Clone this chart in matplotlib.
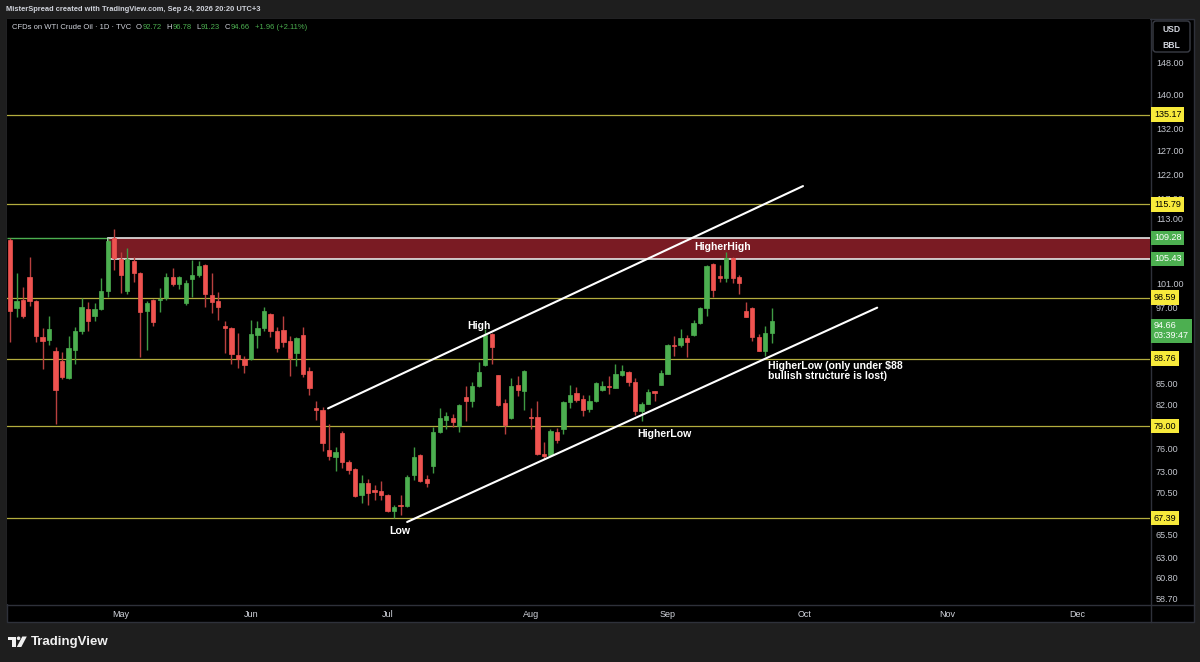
import numpy as np
import matplotlib
matplotlib.use('Agg')
import matplotlib.pyplot as plt
import matplotlib.transforms as mtransforms
from matplotlib import font_manager as fm
from matplotlib.patches import Rectangle, FancyBboxPatch, Polygon, Circle

installed = {f.name for f in fm.fontManager.ttflist}
AXIS_FONT = 'Liberation Sans Narrow' if 'Liberation Sans Narrow' in installed else 'Liberation Sans'
plt.rcParams['font.family'] = ['Liberation Sans', 'DejaVu Sans']

# daily candles (bar index 0 = first visible bar, mid April)
opens = [108.87, 96.90, 98.24, 102.18, 98.07, 92.05, 91.58, 89.87, 88.35, 85.82,
         90.03, 93.00, 96.74, 95.59, 96.74, 99.76, 109.25, 105.38, 99.76, 105.02,
         102.89, 96.40, 98.24, 98.24, 98.58, 102.18, 100.96, 97.74, 101.83, 102.53,
         104.30, 99.09, 98.07, 93.96, 93.48, 89.26, 88.65, 88.65, 92.37, 93.48,
         95.91, 93.00, 93.16, 91.43, 89.57, 92.37, 86.85, 81.52, 81.24, 75.86,
         74.95, 78.10, 74.32, 73.31, 70.12, 71.58, 70.73, 70.60, 70.12, 68.23,
         68.93, 68.82, 72.56, 75.20, 72.07, 73.81, 78.24, 79.86, 80.14, 79.05,
         83.07, 82.50, 84.65, 87.75, 92.53, 86.26, 82.22, 80.14, 84.80, 83.93,
         80.27, 80.27, 75.34, 75.21, 78.24, 78.64, 82.36, 83.64, 82.78, 81.38,
         82.50, 84.07, 84.65, 84.35, 86.26, 86.70, 85.23, 81.10, 82.08, 83.93,
         84.80, 86.40, 90.80, 90.80, 91.90, 92.37, 94.45, 96.90, 104.48, 102.35,
         102.00, 105.56, 102.18, 96.40, 96.90, 92.05, 89.87, 92.72]
highs = [109.25, 102.89, 100.44, 105.74, 98.20, 93.48, 95.59, 90.49, 89.72, 92.21,
         93.80, 98.58, 97.90, 97.74, 102.00, 109.25, 110.94, 106.66, 107.39, 105.74,
         103.00, 98.07, 98.41, 100.27, 102.89, 103.77, 102.35, 101.66, 105.20, 105.02,
         104.48, 102.89, 99.59, 94.77, 93.80, 92.69, 89.10, 94.93, 94.77, 97.07,
         96.07, 93.80, 95.59, 92.21, 92.05, 93.80, 87.45, 82.50, 81.66, 79.32,
         76.25, 78.37, 74.57, 73.44, 72.56, 72.07, 71.34, 71.82, 70.24, 68.93,
         70.12, 72.56, 76.25, 75.30, 72.56, 78.91, 81.52, 80.96, 80.69, 82.08,
         84.65, 85.23, 88.20, 93.32, 92.69, 86.35, 82.78, 85.82, 86.10, 87.00,
         81.52, 82.50, 76.90, 78.64, 78.78, 82.50, 84.80, 84.50, 83.35, 83.35,
         85.23, 85.38, 86.10, 87.90, 87.75, 86.85, 85.82, 82.36, 84.21, 83.93,
         87.00, 90.96, 92.21, 93.32, 92.37, 94.93, 97.07, 104.30, 104.66, 104.30,
         106.66, 105.74, 102.53, 97.90, 97.07, 92.53, 93.96, 96.78]
lows = [91.27, 95.42, 95.26, 97.24, 91.27, 87.15, 90.80, 79.32, 85.67, 85.70,
        87.90, 92.53, 93.00, 94.77, 96.57, 98.74, 103.42, 99.43, 99.26, 101.31,
        88.95, 90.03, 93.96, 96.24, 98.24, 100.62, 100.10, 97.40, 98.74, 102.18,
        97.07, 96.07, 94.93, 89.57, 87.90, 87.30, 86.56, 88.50, 90.34, 93.00,
        92.05, 89.72, 90.49, 86.10, 87.60, 85.96, 83.35, 79.86, 75.73, 74.45,
        73.06, 73.44, 72.68, 69.88, 69.17, 68.93, 69.52, 69.52, 68.10, 67.39,
        67.77, 68.70, 71.94, 71.70, 71.10, 72.80, 78.10, 78.64, 78.91, 78.24,
        79.73, 81.66, 84.50, 87.60, 87.90, 81.80, 77.97, 80.00, 83.20, 81.24,
        78.64, 75.20, 74.70, 75.08, 76.78, 77.97, 81.52, 82.36, 80.41, 80.96,
        82.36, 83.93, 83.50, 84.35, 86.10, 84.65, 80.55, 79.73, 82.00, 82.50,
        84.80, 86.40, 89.10, 90.49, 88.95, 92.21, 94.13, 95.59, 98.74, 101.31,
        101.31, 101.14, 99.26, 95.42, 91.43, 89.87, 89.10, 91.23]
closes = [96.40, 98.07, 95.59, 98.07, 92.21, 91.43, 93.32, 84.07, 85.96, 90.34,
          93.00, 97.07, 94.77, 96.74, 99.76, 108.68, 105.56, 102.53, 105.38, 102.89,
          96.24, 97.74, 94.61, 98.41, 102.18, 100.96, 102.18, 101.14, 102.53, 104.12,
          99.26, 97.90, 97.07, 93.64, 89.41, 88.65, 87.75, 92.53, 93.48, 96.40,
          93.00, 90.34, 91.27, 88.80, 91.90, 86.40, 84.35, 81.24, 76.78, 75.08,
          75.60, 74.20, 73.19, 70.00, 71.58, 70.36, 70.48, 70.12, 68.23, 68.70,
          68.82, 72.31, 74.95, 71.82, 71.58, 78.24, 80.14, 80.41, 79.59, 81.94,
          82.50, 84.65, 86.70, 92.37, 90.49, 81.94, 79.19, 84.65, 84.07, 86.85,
          80.14, 75.34, 75.08, 78.37, 77.17, 82.36, 83.35, 82.64, 81.24, 82.50,
          85.09, 84.65, 84.50, 86.40, 86.85, 85.23, 81.10, 82.08, 83.78, 83.64,
          86.56, 90.80, 90.65, 91.90, 91.27, 94.45, 96.90, 104.12, 99.93, 102.00,
          105.56, 102.00, 101.14, 95.42, 92.05, 89.87, 92.69, 94.66]

month_bars = [17, 37, 58, 80, 101, 122, 144, 164]
month_names = ['May', 'Jun', 'Jul', 'Aug', 'Sep', 'Oct', 'Nov', 'Dec']
price_ticks = [148, 140, 132, 127, 122, 117, 113, 101, 97, 85, 82, 76, 73, 70.5, 68, 65.5, 63, 60.8, 58.7]

yellow_levels = [135.17, 115.79, 98.59, 88.76, 79.00, 67.39]
zone_low, zone_high, zone_start = 105.43, 109.28, 15
upper_channel = ([48.85, 121.8], [81.45, 119.5])
lower_channel = ([61.0, 133.2], [66.96, 96.9])
last_price, countdown = 94.66, '03:39:47'

legend_title = 'CFDs on WTI Crude Oil \u00b7 1D \u00b7 TVC'
legend_ohlc = [('O', '92.72'), ('H', '96.78'), ('L', '91.23'), ('C', '94.66')]
legend_change = '+1.96 (+2.11%)'

notes = [('High', 72.0, 93.96, 'center'),
         ('Low', 59.9, 65.93, 'center'),
         ('HigherLow', 100.5, 77.9, 'center'),
         ('HigherHigh', 109.5, 107.5, 'center'),
         ('HigherLow (only under \\$88\nbullish structure is lost)', 116.4, 86.9, 'left')]

RED, GREEN = '#ef5350', '#4caf50'
RED_WICK, GREEN_WICK = '#b8403f', '#3f9a43'
LEVEL = '#b3ad3e'
YELLOW_TAG = '#f7ea3b'
TXT = '#d1d4dc'
AX_TXT = '#c3c6ce'
FRAME = '#2e313a'

fig = plt.figure(figsize=(12, 6.62), dpi=100)
fig.patch.set_facecolor('#1e1e1e')

# pixel-space background layer
bg = fig.add_axes([0, 0, 1, 1], zorder=0)
bg.set_xlim(0, 1200)
bg.set_ylim(662, 0)
bg.axis('off')
bg.add_patch(Rectangle((6.5, 18.5), 1187, 603.5, facecolor='black', edgecolor=FRAME, lw=1))
bg.plot([1150.5, 1150.5], [18.5, 622], color=FRAME, lw=1)
bg.plot([6.5, 1193.5], [604.5, 604.5], color=FRAME, lw=1)
bg.add_patch(FancyBboxPatch((1153, 21), 37, 31, boxstyle='round,pad=0,rounding_size=3',
                            facecolor='black', edgecolor='#3a3d46', lw=1))
bg.text(1171.5, 29, 'USD', color=TXT, fontsize=6.2, va='center', ha='center', fontweight='bold')
bg.text(1171.5, 45.5, 'BBL', color=TXT, fontsize=6.2, va='center', ha='center', fontweight='bold')

bg.text(6, 9.5, 'MisterSpread created with TradingView.com, Sep 24, 2026 20:20 UTC+3',
        color=TXT, fontsize=5.4, fontweight='bold', va='center', ha='left')

# footer logo
bg.add_patch(Rectangle((8, 636.5), 7.5, 3.5, color='#f0f0f0', lw=0))
bg.add_patch(Rectangle((11.8, 636.5), 3.7, 10.5, color='#f0f0f0', lw=0))
bg.add_patch(Circle((18.6, 638.3), 1.8, color='#f0f0f0', lw=0))
bg.add_patch(Polygon([[16.8, 647], [22.3, 636.5], [26.8, 636.5], [21.3, 647]], color='#f0f0f0', lw=0))
bg.text(31, 642, 'TradingView', color='#f0f0f0', fontsize=9.5, fontweight='bold', va='center', ha='left')

# main chart pane
ax = fig.add_axes([7 / 1200, 1 - 604 / 662, 1143 / 1200, 585 / 662], zorder=1)
ax.set_facecolor('black')
for s in ax.spines.values():
    s.set_visible(False)
ax.set_yscale('log')
ax.set_xlim(-0.46, 175.1)
ax.set_ylim(58.13, 159.4)

o = np.array(opens); h = np.array(highs); l = np.array(lows); c = np.array(closes)
x = np.arange(len(o))
up = c >= o
body_col = np.where(up, GREEN, RED)
wick_col = np.where(up, GREEN_WICK, RED_WICK)
lo_body = np.minimum(o, c)
hi_body = np.maximum(o, c)
ax.vlines(x, l, h, colors=wick_col, lw=1.0, zorder=3)
ax.bar(x, hi_body - lo_body, bottom=lo_body, width=0.66, color=body_col,
       edgecolor=body_col, linewidth=0.5, zorder=4)

for lv in yellow_levels:
    ax.axhline(lv, color=LEVEL, lw=0.9, zorder=2)
ax.hlines(zone_high, ax.get_xlim()[0], zone_start, color=GREEN, lw=1.0, zorder=2)
ax.add_patch(Rectangle((zone_start, zone_low), 300, zone_high - zone_low,
                       facecolor='#7a1b23', edgecolor='#e6e6e6', lw=1.2, zorder=2.5))

ax.plot(*upper_channel, color='white', lw=1.5, zorder=5, solid_capstyle='round')
ax.plot(*lower_channel, color='white', lw=1.5, zorder=5, solid_capstyle='round')

for txt, bx, py, ha in notes:
    ax.text(bx, py, txt, color='white', fontsize=7.6, fontweight='bold', ha=ha, va='center',
            linespacing=1.05, zorder=6)

# price scale
ax.yaxis.set_ticks_position('right')
ax.yaxis.set_major_locator(matplotlib.ticker.FixedLocator(price_ticks))
ax.yaxis.set_minor_locator(matplotlib.ticker.NullLocator())
ax.set_yticklabels(['%.2f' % t for t in price_ticks])
ax.tick_params(axis='y', length=0, pad=4.3, labelsize=6.5, labelcolor=AX_TXT)
for lab in ax.get_yticklabels():
    lab.set_fontfamily(AXIS_FONT)

ax.set_xticks(month_bars)
ax.set_xticklabels(month_names)
ax.tick_params(axis='x', length=0, pad=4.0, labelsize=6.5, labelcolor=TXT)
for lab in ax.get_xticklabels():
    lab.set_fontfamily(AXIS_FONT)

tag_tf = mtransforms.blended_transform_factory(bg.transData, ax.transData)
for lv in yellow_levels:
    ax.text(1154, lv, '%.2f' % lv, transform=tag_tf, color='black', fontsize=6.5, fontfamily=AXIS_FONT,
            ha='left', va='center', clip_on=False, zorder=7,
            bbox=dict(boxstyle='square,pad=0.3', fc=YELLOW_TAG, ec='none'))
for lv in (zone_high, zone_low):
    ax.text(1154, lv, '%.2f' % lv, transform=tag_tf, color='white', fontsize=6.5, fontfamily=AXIS_FONT,
            ha='left', va='center', clip_on=False, zorder=7,
            bbox=dict(boxstyle='square,pad=0.3', fc=GREEN, ec='none'))
ax.text(1154, last_price, '%.2f\n%s' % (last_price, countdown), transform=tag_tf, color='white',
        fontsize=6.5, fontfamily=AXIS_FONT, ha='left', va='top', clip_on=False, zorder=7,
        linespacing=1.15, bbox=dict(boxstyle='square,pad=0.3', fc=GREEN, ec='none'))

# legend line drawn on a transparent layer above the chart pane
top = fig.add_axes([0, 0, 1, 1], zorder=5)
top.set_xlim(0, 1200)
top.set_ylim(662, 0)
top.axis('off')
top.patch.set_alpha(0)
prev = top.text(12, 27.5, legend_title, color=TXT, fontsize=5.5, va='center', ha='left')
parts = []
for letter, val in legend_ohlc:
    parts += [(letter, TXT, 3.5), (val, GREEN, 0.3)]
parts.append((legend_change, GREEN, 3.5))
for part, col, gap in parts:
    prev = top.annotate(part, xy=(1, 0), xycoords=prev, xytext=(gap, 0), textcoords='offset points',
                        color=col, fontsize=5.5, va='bottom', ha='left')

fig.savefig('out.png', dpi=100, facecolor=fig.get_facecolor())
